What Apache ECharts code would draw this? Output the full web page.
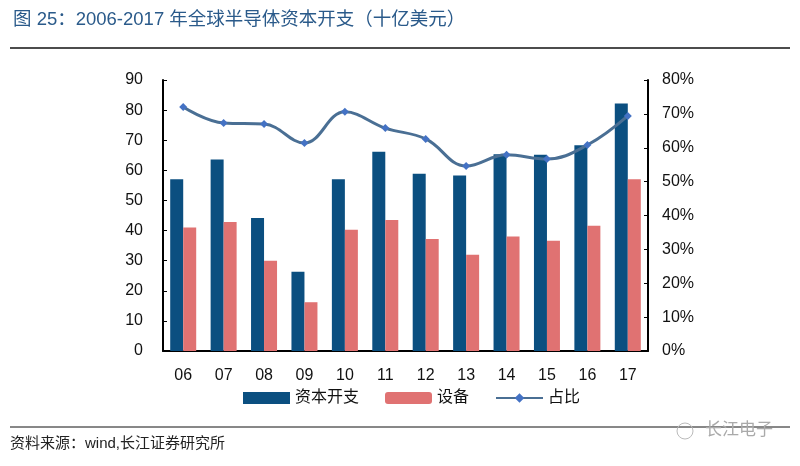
<!DOCTYPE html>
<html><head><meta charset="utf-8">
<script src="https://cdn.jsdelivr.net/npm/echarts@6/dist/echarts.min.js"></script>
<style>html,body{margin:0;padding:0;background:#fff}#c{width:800px;height:466px}</style>
</head><body><div id="c"></div>
<script>
const categories = ['06','07','08','09','10','11','12','13','14','15','16','17'];
const capex = [57, 63.6, 44.2, 26.3, 57, 66.2, 58.9, 58.3, 65.3, 65.2, 68.3, 82.2];
const equipment = [41, 42.8, 30, 16.2, 40.3, 43.5, 37.2, 32, 38, 36.6, 41.6, 57];
const ratio = [72.0, 67.3, 67.0, 61.4, 70.6, 65.8, 62.6, 54.6, 57.9, 56.7, 60.8, 69.4];
const leftTicks = [0, 90, 10];
const rightTicks = [0, 80, 10];

const font = '"Liberation Sans", Arial, "Noto Sans CJK SC", sans-serif';
const chart = echarts.init(document.getElementById('c'));
chart.setOption({
  animation: false,
  backgroundColor: '#fff',
  textStyle: { fontFamily: font },
  title: {
    text: '图 25：2006-2017 年全球半导体资本开支（十亿美元）',
    left: 8, top: 6,
    textStyle: { fontSize: 18.5, fontWeight: 'normal', color: '#2a5a8a', fontFamily: font }
  },
  graphic: [
    { type: 'line', shape: { x1: 10, y1: 48, x2: 790, y2: 48 }, style: { stroke: '#111', lineWidth: 1.5 } },
    { type: 'line', shape: { x1: 10, y1: 427, x2: 790, y2: 427 }, style: { stroke: '#111', lineWidth: 1 } },
    { type: 'text', left: 10, top: 436, style: { text: '资料来源：wind,长江证券研究所', fontSize: 15, fill: '#222', fontFamily: font } },
    { type: 'text', left: 705, top: 422, style: { text: '长江电子', fontSize: 17, fill: '#aaa', fontFamily: font } },
    { type: 'circle', shape: { cx: 685, cy: 431, r: 8 }, style: { fill: 'none', stroke: '#bbb', lineWidth: 1 } }
  ],
  legend: {
    bottom: 55, left: 238,
    itemGap: 26,
    textStyle: { fontSize: 16, color: '#111', fontFamily: font },
    data: [
      { name: '资本开支', icon: 'rect' },
      { name: '设备', icon: 'roundRect' },
      { name: '占比' }
    ],
    itemWidth: 47, itemHeight: 12
  },
  grid: { left: 163, right: 152, top: 80, bottom: 115 },
  xAxis: {
    type: 'category', data: categories,
    axisLine: { lineStyle: { color: '#000', width: 2 } },
    axisTick: { show: false },
    axisLabel: { fontSize: 16, color: '#111', margin: 17 }
  },
  yAxis: [
    {
      type: 'value', min: leftTicks[0], max: leftTicks[1], interval: leftTicks[2],
      axisLine: { show: true, lineStyle: { color: '#000', width: 2 } },
      axisTick: { show: true, inside: true, length: 4, lineStyle: { color: '#000' } },
      splitLine: { show: false },
      axisLabel: { fontSize: 16, color: '#111', margin: 20 }
    },
    {
      type: 'value', min: rightTicks[0], max: rightTicks[1], interval: rightTicks[2],
      axisLine: { show: true, lineStyle: { color: '#000', width: 2 } },
      axisTick: { show: true, inside: true, length: 4, lineStyle: { color: '#000' } },
      splitLine: { show: false },
      axisLabel: { fontSize: 16, color: '#111', margin: 14, formatter: '{value}%' }
    }
  ],
  series: [
    { name: '资本开支', type: 'bar', data: capex, barWidth: 13, barGap: '0%', itemStyle: { color: '#0b4f80' } },
    { name: '设备', type: 'bar', data: equipment, barWidth: 13, itemStyle: { color: '#e07272' } },
    { name: '占比', type: 'line', yAxisIndex: 1, data: ratio, smooth: 0.4,
      symbol: 'diamond', symbolSize: 8,
      lineStyle: { color: '#4a6f94', width: 3 },
      itemStyle: { color: '#4472c4' } }
  ]
});
</script></body></html>
